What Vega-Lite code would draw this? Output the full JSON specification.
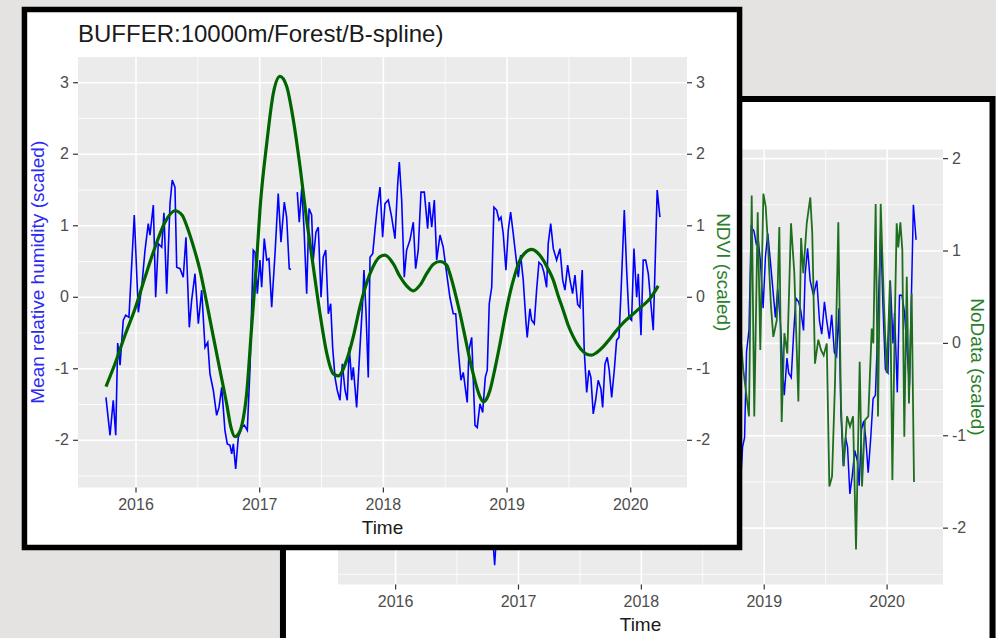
{
  "$schema": "https://vega.github.io/schema/vega-lite/v6.json",
  "width": 996,
  "height": 638,
  "autosize": "none",
  "padding": 0,
  "background": "#e5e3e1",
  "config": {
    "view": {"stroke": null},
    "axis": {"disable": true},
    "text": {"font": "Liberation Sans"}
  },
  "datasets": {
    "humidity": [
      {"t":2015.757,"v":-1.40},{"t":2015.790,"v":-1.93},{"t":2015.816,"v":-1.44},{"t":2015.836,"v":-1.93},{"t":2015.852,"v":-0.64},{"t":2015.871,"v":-0.95},{"t":2015.897,"v":-0.32},{"t":2015.917,"v":-0.25},{"t":2015.943,"v":-0.28},{"t":2015.986,"v":1.15},
      {"t":2016.019,"v":-0.21},{"t":2016.046,"v":0.14},{"t":2016.073,"v":0.66},{"t":2016.099,"v":1.03},{"t":2016.113,"v":0.87},{"t":2016.140,"v":1.29},{"t":2016.159,"v":0.0},{"t":2016.180,"v":0.75},{"t":2016.208,"v":0.70},{"t":2016.226,"v":1.18},
      {"t":2016.248,"v":0.05},{"t":2016.275,"v":1.31},{"t":2016.293,"v":1.64},{"t":2016.315,"v":1.54},{"t":2016.329,"v":0.42},{"t":2016.356,"v":0.40},{"t":2016.382,"v":0.28},{"t":2016.404,"v":0.84},{"t":2016.431,"v":-0.42},{"t":2016.450,"v":-0.04},
      {"t":2016.477,"v":0.33},{"t":2016.504,"v":-0.37},{"t":2016.531,"v":0.10},{"t":2016.558,"v":-0.70},{"t":2016.580,"v":-0.63},{"t":2016.598,"v":-1.07},{"t":2016.625,"v":-1.30},{"t":2016.652,"v":-1.65},{"t":2016.671,"v":-1.54},{"t":2016.693,"v":-1.26},
      {"t":2016.719,"v":-1.86},{"t":2016.738,"v":-2.05},{"t":2016.760,"v":-2.07},{"t":2016.774,"v":-2.19},{"t":2016.787,"v":-2.05},{"t":2016.806,"v":-2.40},{"t":2016.827,"v":-1.96},{"t":2016.855,"v":-1.82},{"t":2016.876,"v":-1.79},{"t":2016.900,"v":-1.86},
      {"t":2016.922,"v":-0.98},{"t":2016.948,"v":0.66},{"t":2016.962,"v":0.63},{"t":2016.981,"v":0.05},{"t":2017.002,"v":0.52},{"t":2017.016,"v":0.14},{"t":2017.037,"v":0.82},{"t":2017.057,"v":0.52},{"t":2017.075,"v":0.54},{"t":2017.097,"v":-0.14},
      {"t":2017.124,"v":0.61},{"t":2017.150,"v":1.45},{"t":2017.172,"v":0.77},{"t":2017.199,"v":1.33},{"t":2017.218,"v":1.12},{"t":2017.239,"v":0.40},{"t":2017.253,"v":0.39},{"t":2017.280,"v":null},{"t":2017.304,"v":1.47},{"t":2017.320,"v":1.05},
      {"t":2017.340,"v":1.52},{"t":2017.358,"v":0.98},{"t":2017.380,"v":0.05},{"t":2017.399,"v":1.24},{"t":2017.420,"v":1.15},{"t":2017.433,"v":0.52},{"t":2017.455,"v":0.91},{"t":2017.474,"v":0.98},{"t":2017.496,"v":0.0},{"t":2017.514,"v":0.56},
      {"t":2017.534,"v":0.66},{"t":2017.555,"v":-0.23},{"t":2017.574,"v":-0.09},{"t":2017.590,"v":-0.70},{"t":2017.609,"v":-1.12},{"t":2017.627,"v":-1.30},{"t":2017.649,"v":-1.44},{"t":2017.668,"v":-0.93},{"t":2017.690,"v":-1.30},{"t":2017.708,"v":-1.44},
      {"t":2017.724,"v":-0.70},{"t":2017.744,"v":-1.16},{"t":2017.757,"v":-0.98},{"t":2017.784,"v":-1.54},{"t":2017.811,"v":-0.70},{"t":2017.833,"v":-0.04},{"t":2017.843,"v":0.38},{"t":2017.859,"v":-0.18},{"t":2017.878,"v":-1.12},{"t":2017.892,"v":0.56},
      {"t":2017.914,"v":0.61},{"t":2017.932,"v":0.94},{"t":2017.951,"v":1.26},{"t":2017.973,"v":1.54},{"t":2017.994,"v":0.84},{"t":2018.013,"v":1.31},{"t":2018.040,"v":1.36},{"t":2018.067,"v":1.12},{"t":2018.094,"v":0.82},{"t":2018.116,"v":1.59},
      {"t":2018.129,"v":1.89},{"t":2018.148,"v":1.36},{"t":2018.169,"v":0.28},{"t":2018.188,"v":0.66},{"t":2018.215,"v":0.80},{"t":2018.242,"v":1.05},{"t":2018.261,"v":0.40},{"t":2018.282,"v":0.66},{"t":2018.304,"v":1.47},{"t":2018.331,"v":1.47},
      {"t":2018.358,"v":0.96},{"t":2018.371,"v":1.33},{"t":2018.391,"v":0.98},{"t":2018.412,"v":1.36},{"t":2018.431,"v":0.52},{"t":2018.458,"v":0.87},{"t":2018.484,"v":0.70},{"t":2018.512,"v":0.33},{"t":2018.538,"v":0.0},{"t":2018.565,"v":-0.23},
      {"t":2018.585,"v":-0.23},{"t":2018.606,"v":-0.74},{"t":2018.627,"v":-1.16},{"t":2018.646,"v":-1.05},{"t":2018.678,"v":-1.47},{"t":2018.692,"v":-0.74},{"t":2018.714,"v":-0.56},{"t":2018.741,"v":-1.79},{"t":2018.759,"v":-1.82},{"t":2018.781,"v":-1.49},
      {"t":2018.803,"v":-1.61},{"t":2018.824,"v":-1.12},{"t":2018.840,"v":-1.02},{"t":2018.856,"v":-0.09},{"t":2018.876,"v":0.14},{"t":2018.894,"v":1.26},{"t":2018.916,"v":1.22},{"t":2018.935,"v":1.08},{"t":2018.951,"v":1.12},{"t":2018.969,"v":0.89},
      {"t":2018.991,"v":0.38},{"t":2019.010,"v":0.94},{"t":2019.029,"v":1.19},{"t":2019.050,"v":0.89},{"t":2019.072,"v":0.56},{"t":2019.091,"v":0.28},{"t":2019.110,"v":0.59},{"t":2019.131,"v":0.24},{"t":2019.153,"v":-0.35},{"t":2019.163,"v":-0.56},
      {"t":2019.185,"v":-0.16},{"t":2019.199,"v":-0.32},{"t":2019.220,"v":-0.37},{"t":2019.239,"v":0.10},{"t":2019.258,"v":0.49},{"t":2019.280,"v":0.45},{"t":2019.298,"v":0.35},{"t":2019.320,"v":0.14},{"t":2019.333,"v":0.75},{"t":2019.353,"v":1.03},
      {"t":2019.374,"v":0.68},{"t":2019.401,"v":0.52},{"t":2019.428,"v":0.68},{"t":2019.450,"v":0.24},{"t":2019.468,"v":0.10},{"t":2019.490,"v":0.45},{"t":2019.509,"v":0.24},{"t":2019.530,"v":0.05},{"t":2019.549,"v":0.31},{"t":2019.571,"v":-0.10},
      {"t":2019.589,"v":-0.14},{"t":2019.608,"v":0.38},{"t":2019.624,"v":-0.74},{"t":2019.644,"v":-1.33},{"t":2019.662,"v":-1.02},{"t":2019.678,"v":-1.12},{"t":2019.697,"v":-1.63},{"t":2019.716,"v":-1.44},{"t":2019.737,"v":-1.16},{"t":2019.759,"v":-1.28},
      {"t":2019.773,"v":-1.54},{"t":2019.792,"v":-0.93},{"t":2019.810,"v":-0.84},{"t":2019.826,"v":-1.02},{"t":2019.846,"v":-1.40},{"t":2019.867,"v":-1.02},{"t":2019.886,"v":-0.60},{"t":2019.905,"v":-0.56},{"t":2019.921,"v":0.05},{"t":2019.948,"v":1.22},
      {"t":2019.967,"v":0.38},{"t":2019.986,"v":-0.28},{"t":2020.007,"v":-0.32},{"t":2020.026,"v":0.68},{"t":2020.048,"v":0.0},{"t":2020.061,"v":0.33},{"t":2020.083,"v":-0.53},{"t":2020.101,"v":0.52},{"t":2020.121,"v":0.52},{"t":2020.142,"v":0.33},
      {"t":2020.163,"v":-0.09},{"t":2020.182,"v":-0.46},{"t":2020.196,"v":0.38},{"t":2020.214,"v":1.50},{"t":2020.236,"v":1.12}
    ],
    "ndvi": [
      {"t":2015.757,"v":-1.25},{"t":2015.830,"v":-0.93},{"t":2015.911,"v":-0.53},{"t":2015.992,"v":-0.16},{"t":2016.073,"v":0.28},{"t":2016.154,"v":0.70},{"t":2016.234,"v":1.05},{"t":2016.315,"v":1.21},{"t":2016.372,"v":1.15},{"t":2016.412,"v":0.99},
      {"t":2016.461,"v":0.73},{"t":2016.517,"v":0.38},{"t":2016.572,"v":-0.08},{"t":2016.625,"v":-0.55},{"t":2016.679,"v":-1.02},{"t":2016.733,"v":-1.49},{"t":2016.768,"v":-1.82},{"t":2016.800,"v":-1.95},{"t":2016.833,"v":-1.90},{"t":2016.857,"v":-1.78},
      {"t":2016.895,"v":-1.34},{"t":2016.935,"v":-0.41},{"t":2016.976,"v":0.52},{"t":2017.002,"v":1.22},{"t":2017.057,"v":2.15},{"t":2017.110,"v":2.85},{"t":2017.164,"v":3.09},{"t":2017.218,"v":2.95},{"t":2017.272,"v":2.48},{"t":2017.326,"v":1.83},
      {"t":2017.380,"v":1.08},{"t":2017.433,"v":0.43},{"t":2017.487,"v":-0.22},{"t":2017.542,"v":-0.78},{"t":2017.595,"v":-1.07},{"t":2017.635,"v":-1.10},{"t":2017.703,"v":-0.88},{"t":2017.757,"v":-0.55},{"t":2017.811,"v":-0.13},{"t":2017.892,"v":0.33},
      {"t":2017.973,"v":0.57},{"t":2018.013,"v":0.59},{"t":2018.080,"v":0.47},{"t":2018.134,"v":0.29},{"t":2018.188,"v":0.16},{"t":2018.242,"v":0.09},{"t":2018.296,"v":0.17},{"t":2018.350,"v":0.33},{"t":2018.403,"v":0.46},{"t":2018.458,"v":0.50},
      {"t":2018.512,"v":0.45},{"t":2018.538,"v":0.33},{"t":2018.579,"v":0.07},{"t":2018.619,"v":-0.22},{"t":2018.660,"v":-0.55},{"t":2018.700,"v":-0.88},{"t":2018.741,"v":-1.17},{"t":2018.781,"v":-1.39},{"t":2018.808,"v":-1.46},{"t":2018.835,"v":-1.42},
      {"t":2018.862,"v":-1.30},{"t":2018.902,"v":-1.00},{"t":2018.943,"v":-0.65},{"t":2018.983,"v":-0.28},{"t":2019.023,"v":0.05},{"t":2019.064,"v":0.32},{"t":2019.104,"v":0.52},{"t":2019.145,"v":0.62},{"t":2019.199,"v":0.67},{"t":2019.242,"v":0.63},
      {"t":2019.293,"v":0.52},{"t":2019.331,"v":0.40},{"t":2019.374,"v":0.24},{"t":2019.412,"v":0.03},{"t":2019.454,"v":-0.18},{"t":2019.492,"v":-0.38},{"t":2019.535,"v":-0.55},{"t":2019.573,"v":-0.67},{"t":2019.616,"v":-0.76},{"t":2019.650,"v":-0.80},
      {"t":2019.684,"v":-0.81},{"t":2019.727,"v":-0.77},{"t":2019.778,"v":-0.69},{"t":2019.832,"v":-0.58},{"t":2019.886,"v":-0.46},{"t":2019.937,"v":-0.36},{"t":2019.994,"v":-0.27},{"t":2020.048,"v":-0.19},{"t":2020.101,"v":-0.11},{"t":2020.155,"v":-0.02},
      {"t":2020.222,"v":0.16}
    ],
    "nodata": [
      {"t":2018.800,"v":0.20},{"t":2018.830,"v":-0.29},{"t":2018.876,"v":-0.79},{"t":2018.898,"v":1.60},{"t":2018.919,"v":-0.79},{"t":2018.947,"v":1.42},{"t":2018.968,"v":-0.07},{"t":2018.993,"v":1.62},{"t":2019.012,"v":1.48},{"t":2019.033,"v":1.01},
      {"t":2019.055,"v":0.40},{"t":2019.074,"v":0.07},{"t":2019.102,"v":0.25},{"t":2019.123,"v":1.26},{"t":2019.142,"v":-0.85},{"t":2019.164,"v":0.11},{"t":2019.188,"v":-0.11},{"t":2019.218,"v":1.30},{"t":2019.245,"v":0.76},{"t":2019.278,"v":-0.63},
      {"t":2019.300,"v":1.14},{"t":2019.318,"v":0.76},{"t":2019.346,"v":1.30},{"t":2019.375,"v":1.58},{"t":2019.391,"v":1.19},{"t":2019.413,"v":-0.22},{"t":2019.440,"v":0.04},{"t":2019.462,"v":-0.07},{"t":2019.484,"v":-0.13},{"t":2019.509,"v":0.00},
      {"t":2019.530,"v":-1.55},{"t":2019.552,"v":-1.44},{"t":2019.576,"v":-0.43},{"t":2019.603,"v":1.31},{"t":2019.625,"v":-0.69},{"t":2019.647,"v":-1.33},{"t":2019.674,"v":-0.79},{"t":2019.698,"v":-0.90},{"t":2019.723,"v":-0.79},{"t":2019.747,"v":-2.23},
      {"t":2019.777,"v":-0.20},{"t":2019.796,"v":-1.55},{"t":2019.820,"v":-0.83},{"t":2019.847,"v":-0.79},{"t":2019.875,"v":0.16},{"t":2019.888,"v":0.00},{"t":2019.907,"v":1.51},{"t":2019.926,"v":-0.79},{"t":2019.948,"v":1.51},{"t":2019.973,"v":0.47},
      {"t":2019.997,"v":-0.32},{"t":2020.024,"v":0.68},{"t":2020.043,"v":-1.48},{"t":2020.062,"v":0.18},{"t":2020.078,"v":1.30},{"t":2020.091,"v":1.04},{"t":2020.108,"v":1.31},{"t":2020.124,"v":1.01},{"t":2020.140,"v":-1.01},{"t":2020.160,"v":0.72},
      {"t":2020.178,"v":-0.65},{"t":2020.200,"v":0.54},{"t":2020.219,"v":-1.50}
    ],
    "xgrid": [
      {"t":2016,"kind":"major"},{"t":2017,"kind":"major"},{"t":2018,"kind":"major"},{"t":2019,"kind":"major"},{"t":2020,"kind":"major"},
      {"t":2016.5,"kind":"minor"},{"t":2017.5,"kind":"minor"},{"t":2018.5,"kind":"minor"},{"t":2019.5,"kind":"minor"}
    ],
    "ygridFront": [
      {"v":-2,"kind":"major"},{"v":-1,"kind":"major"},{"v":0,"kind":"major"},{"v":1,"kind":"major"},{"v":2,"kind":"major"},{"v":3,"kind":"major"},
      {"v":-2.5,"kind":"minor"},{"v":-1.5,"kind":"minor"},{"v":-0.5,"kind":"minor"},{"v":0.5,"kind":"minor"},{"v":1.5,"kind":"minor"},{"v":2.5,"kind":"minor"}
    ],
    "ygridBack": [
      {"v":-2,"kind":"major"},{"v":-1,"kind":"major"},{"v":0,"kind":"major"},{"v":1,"kind":"major"},{"v":2,"kind":"major"},
      {"v":-2.5,"kind":"minor"},{"v":-1.5,"kind":"minor"},{"v":-0.5,"kind":"minor"},{"v":0.5,"kind":"minor"},{"v":1.5,"kind":"minor"}
    ]
  },
  "layer": [
    {
      "layer": [
        {
          "data": {"values": [{}]},
          "mark": {"type": "rect", "fill": "#ffffff", "stroke": "#000000", "strokeWidth": 6},
          "encoding": {
            "x": {"datum": 2015.083, "type": "quantitative", "scale": {"domain": [2015.531, 2020.455], "range": [338, 943], "nice": false, "zero": false}, "axis": null},
            "x2": {"datum": 2020.858},
            "y": {"datum": -3.43, "type": "quantitative", "scale": {"domain": [-2.61, 2.10], "range": [584.5, 149.4], "nice": false, "zero": false}, "axis": null},
            "y2": {"datum": 2.646}
          }
        },
        {
          "data": {"values": [{}]},
          "mark": {"type": "rect", "fill": "#ebebeb"},
          "encoding": {
            "x": {"datum": 2015.531, "type": "quantitative", "axis": null},
            "x2": {"datum": 2020.455},
            "y": {"datum": -2.61, "type": "quantitative", "axis": null},
            "y2": {"datum": 2.10}
          }
        },
        {
          "data": {"name": "xgrid"},
          "transform": [{"filter": "datum.kind == 'minor'"}],
          "mark": {"type": "rule", "color": "#ffffff", "strokeWidth": 0.8},
          "encoding": {
            "x": {"field": "t", "type": "quantitative", "axis": null},
            "y": {"datum": -2.61, "type": "quantitative", "axis": null},
            "y2": {"datum": 2.10}
          }
        },
        {
          "data": {"name": "ygridBack"},
          "transform": [{"filter": "datum.kind == 'minor'"}],
          "mark": {"type": "rule", "color": "#ffffff", "strokeWidth": 0.8},
          "encoding": {
            "y": {"field": "v", "type": "quantitative", "axis": null},
            "x": {"datum": 2015.531, "type": "quantitative", "axis": null},
            "x2": {"datum": 2020.455}
          }
        },
        {
          "data": {"name": "xgrid"},
          "transform": [{"filter": "datum.kind == 'major'"}],
          "mark": {"type": "rule", "color": "#ffffff", "strokeWidth": 1.6},
          "encoding": {
            "x": {"field": "t", "type": "quantitative", "axis": null},
            "y": {"datum": -2.61, "type": "quantitative", "axis": null},
            "y2": {"datum": 2.10}
          }
        },
        {
          "data": {"name": "ygridBack"},
          "transform": [{"filter": "datum.kind == 'major'"}],
          "mark": {"type": "rule", "color": "#ffffff", "strokeWidth": 1.6},
          "encoding": {
            "y": {"field": "v", "type": "quantitative", "axis": null},
            "x": {"datum": 2015.531, "type": "quantitative", "axis": null},
            "x2": {"datum": 2020.455}
          }
        },
        {
          "data": {"name": "humidity"},
          "mark": {"type": "line", "color": "#0000ff", "strokeWidth": 1.5},
          "encoding": {
            "x": {"field": "t", "type": "quantitative", "axis": null},
            "y": {"field": "v", "type": "quantitative", "axis": null}
          }
        },
        {
          "data": {"name": "nodata"},
          "mark": {"type": "line", "color": "#1f6e1f", "strokeWidth": 1.8},
          "encoding": {
            "x": {"field": "t", "type": "quantitative", "axis": null},
            "y": {"field": "v", "type": "quantitative", "axis": null}
          }
        },
        {
          "data": {"name": "xgrid"},
          "transform": [{"filter": "datum.kind == 'major'"}],
          "mark": {"type": "rule", "color": "#333333", "strokeWidth": 1.2},
          "encoding": {
            "x": {"field": "t", "type": "quantitative", "axis": null},
            "y": {"datum": -2.61, "type": "quantitative", "axis": null},
            "y2": {"datum": -2.664}
          }
        },
        {
          "data": {"name": "xgrid"},
          "transform": [{"filter": "datum.kind == 'major'"}],
          "mark": {"type": "text", "baseline": "top", "align": "center", "dy": 9, "fontSize": 16, "color": "#4d4d4d"},
          "encoding": {
            "x": {"field": "t", "type": "quantitative", "axis": null},
            "y": {"datum": -2.61, "type": "quantitative", "axis": null},
            "text": {"field": "t", "type": "nominal"}
          }
        },
        {
          "data": {"name": "ygridBack"},
          "transform": [{"filter": "datum.kind == 'major'"}],
          "mark": {"type": "rule", "color": "#333333", "strokeWidth": 1.2},
          "encoding": {
            "y": {"field": "v", "type": "quantitative", "axis": null},
            "x": {"datum": 2020.455, "type": "quantitative", "axis": null},
            "x2": {"datum": 2020.496}
          }
        },
        {
          "data": {"name": "ygridBack"},
          "transform": [{"filter": "datum.kind == 'major'"}],
          "mark": {"type": "text", "baseline": "middle", "align": "left", "dx": 9, "fontSize": 16, "color": "#4d4d4d"},
          "encoding": {
            "y": {"field": "v", "type": "quantitative", "axis": null},
            "x": {"datum": 2020.455, "type": "quantitative", "axis": null},
            "text": {"field": "v", "type": "nominal"}
          }
        },
        {
          "data": {"values": [{}]},
          "mark": {"type": "text", "text": "Time", "baseline": "middle", "align": "center", "dy": 40, "fontSize": 19, "color": "#1a1a1a"},
          "encoding": {
            "x": {"datum": 2017.993, "type": "quantitative", "axis": null},
            "y": {"datum": -2.61, "type": "quantitative", "axis": null}
          }
        },
        {
          "data": {"values": [{}]},
          "mark": {"type": "text", "text": "NoData (scaled)", "angle": 90, "baseline": "middle", "align": "center", "dy": -34, "fontSize": 19, "color": "#2a7f2a"},
          "encoding": {
            "x": {"datum": 2020.455, "type": "quantitative", "axis": null},
            "y": {"datum": -0.255, "type": "quantitative", "axis": null}
          }
        }
      ]
    },
    {
      "layer": [
        {
          "layer": [
            {
              "data": {"values": [{}]},
              "mark": {"type": "rect", "fill": "#ffffff", "stroke": "#000000", "strokeWidth": 5.5},
              "encoding": {
                "x": {"datum": 2015.098, "type": "quantitative", "scale": {"domain": [2015.531, 2020.455], "range": [78, 687], "nice": false, "zero": false}, "axis": null},
                "x2": {"datum": 2020.880},
                "y": {"datum": -3.499, "type": "quantitative", "scale": {"domain": [-2.66, 3.36], "range": [487.5, 57], "nice": false, "zero": false}, "axis": null},
                "y2": {"datum": 4.025}
              }
            },
            {
              "data": {"values": [{}]},
              "mark": {"type": "rect", "fill": "#ebebeb"},
              "encoding": {
                "x": {"datum": 2015.531, "type": "quantitative", "axis": null},
                "x2": {"datum": 2020.455},
                "y": {"datum": -2.66, "type": "quantitative", "axis": null},
                "y2": {"datum": 3.36}
              }
            },
            {
              "data": {"name": "xgrid"},
              "transform": [{"filter": "datum.kind == 'minor'"}],
              "mark": {"type": "rule", "color": "#ffffff", "strokeWidth": 0.8},
              "encoding": {
                "x": {"field": "t", "type": "quantitative", "axis": null},
                "y": {"datum": -2.66, "type": "quantitative", "axis": null},
                "y2": {"datum": 3.36}
              }
            },
            {
              "data": {"name": "ygridFront"},
              "transform": [{"filter": "datum.kind == 'minor'"}],
              "mark": {"type": "rule", "color": "#ffffff", "strokeWidth": 0.8},
              "encoding": {
                "y": {"field": "v", "type": "quantitative", "axis": null},
                "x": {"datum": 2015.531, "type": "quantitative", "axis": null},
                "x2": {"datum": 2020.455}
              }
            },
            {
              "data": {"name": "xgrid"},
              "transform": [{"filter": "datum.kind == 'major'"}],
              "mark": {"type": "rule", "color": "#ffffff", "strokeWidth": 1.6},
              "encoding": {
                "x": {"field": "t", "type": "quantitative", "axis": null},
                "y": {"datum": -2.66, "type": "quantitative", "axis": null},
                "y2": {"datum": 3.36}
              }
            },
            {
              "data": {"name": "ygridFront"},
              "transform": [{"filter": "datum.kind == 'major'"}],
              "mark": {"type": "rule", "color": "#ffffff", "strokeWidth": 1.6},
              "encoding": {
                "y": {"field": "v", "type": "quantitative", "axis": null},
                "x": {"datum": 2015.531, "type": "quantitative", "axis": null},
                "x2": {"datum": 2020.455}
              }
            },
            {
              "data": {"name": "humidity"},
              "mark": {"type": "line", "color": "#0000ff", "strokeWidth": 1.6},
              "encoding": {
                "x": {"field": "t", "type": "quantitative", "axis": null},
                "y": {"field": "v", "type": "quantitative", "axis": null}
              }
            },
            {
              "data": {"name": "ndvi"},
              "mark": {"type": "line", "color": "#006400", "strokeWidth": 3.2, "interpolate": "monotone"},
              "encoding": {
                "x": {"field": "t", "type": "quantitative", "axis": null},
                "y": {"field": "v", "type": "quantitative", "axis": null}
              }
            },
            {
              "data": {"name": "xgrid"},
              "transform": [{"filter": "datum.kind == 'major'"}],
              "mark": {"type": "rule", "color": "#333333", "strokeWidth": 1.2},
              "encoding": {
                "x": {"field": "t", "type": "quantitative", "axis": null},
                "y": {"datum": -2.66, "type": "quantitative", "axis": null},
                "y2": {"datum": -2.73}
              }
            },
            {
              "data": {"name": "xgrid"},
              "transform": [{"filter": "datum.kind == 'major'"}],
              "mark": {"type": "text", "baseline": "top", "align": "center", "dy": 9, "fontSize": 16, "color": "#4d4d4d"},
              "encoding": {
                "x": {"field": "t", "type": "quantitative", "axis": null},
                "y": {"datum": -2.66, "type": "quantitative", "axis": null},
                "text": {"field": "t", "type": "nominal"}
              }
            },
            {
              "data": {"name": "ygridFront"},
              "transform": [{"filter": "datum.kind == 'major'"}],
              "mark": {"type": "rule", "color": "#333333", "strokeWidth": 1.2},
              "encoding": {
                "y": {"field": "v", "type": "quantitative", "axis": null},
                "x": {"datum": 2015.531, "type": "quantitative", "axis": null},
                "x2": {"datum": 2015.491}
              }
            },
            {
              "data": {"name": "ygridFront"},
              "transform": [{"filter": "datum.kind == 'major'"}],
              "mark": {"type": "text", "baseline": "middle", "align": "right", "dx": -9, "fontSize": 16, "color": "#4d4d4d"},
              "encoding": {
                "y": {"field": "v", "type": "quantitative", "axis": null},
                "x": {"datum": 2015.531, "type": "quantitative", "axis": null},
                "text": {"field": "v", "type": "nominal"}
              }
            },
            {
              "data": {"name": "ygridFront"},
              "transform": [{"filter": "datum.kind == 'major'"}],
              "mark": {"type": "rule", "color": "#333333", "strokeWidth": 1.2},
              "encoding": {
                "y": {"field": "v", "type": "quantitative", "axis": null},
                "x": {"datum": 2020.455, "type": "quantitative", "axis": null},
                "x2": {"datum": 2020.495}
              }
            },
            {
              "data": {"name": "ygridFront"},
              "transform": [{"filter": "datum.kind == 'major'"}],
              "mark": {"type": "text", "baseline": "middle", "align": "left", "dx": 9, "fontSize": 16, "color": "#4d4d4d"},
              "encoding": {
                "y": {"field": "v", "type": "quantitative", "axis": null},
                "x": {"datum": 2020.455, "type": "quantitative", "axis": null},
                "text": {"field": "v", "type": "nominal"}
              }
            },
            {
              "data": {"values": [{}]},
              "mark": {"type": "text", "text": "Time", "baseline": "middle", "align": "center", "dy": 40, "fontSize": 19, "color": "#1a1a1a"},
              "encoding": {
                "x": {"datum": 2017.993, "type": "quantitative", "axis": null},
                "y": {"datum": -2.66, "type": "quantitative", "axis": null}
              }
            },
            {
              "data": {"values": [{}]},
              "mark": {"type": "text", "text": "Mean relative humidity (scaled)", "angle": 270, "baseline": "middle", "align": "center", "dy": -40, "fontSize": 19, "color": "#2a2af0"},
              "encoding": {
                "x": {"datum": 2015.531, "type": "quantitative", "axis": null},
                "y": {"datum": 0.35, "type": "quantitative", "axis": null}
              }
            },
            {
              "data": {"values": [{}]},
              "mark": {"type": "text", "text": "NDVI (scaled)", "angle": 90, "baseline": "middle", "align": "center", "dy": -36, "fontSize": 19, "color": "#2a7f2a"},
              "encoding": {
                "x": {"datum": 2020.455, "type": "quantitative", "axis": null},
                "y": {"datum": 0.35, "type": "quantitative", "axis": null}
              }
            },
            {
              "data": {"values": [{}]},
              "mark": {"type": "text", "text": "BUFFER:10000m/Forest/B-spline)", "baseline": "middle", "align": "left", "dy": -22, "fontSize": 24, "color": "#1a1a1a"},
              "encoding": {
                "x": {"datum": 2015.531, "type": "quantitative", "axis": null},
                "y": {"datum": 3.36, "type": "quantitative", "axis": null}
              }
            }
          ]
        }
      ]
    }
  ],
  "resolve": {"scale": {"x": "independent", "y": "independent"}}
}
